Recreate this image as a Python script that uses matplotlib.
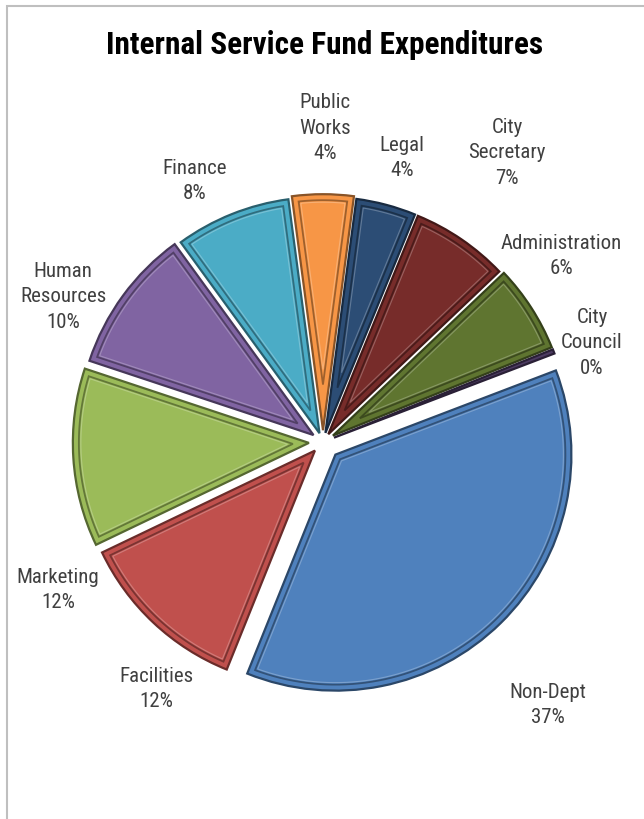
"""Exploded pie of internal service fund expenditures by department."""

import matplotlib

matplotlib.use("Agg")

import matplotlib.pyplot as plt
import numpy as np
from matplotlib.colors import to_rgb
from matplotlib.patches import Polygon, Rectangle

WIDTH, HEIGHT = 644, 820
FONT = ["Roboto Condensed", "Liberation Sans"]

departments = [
    "Non-Dept", "Facilities", "Marketing", "Human\nResources", "Finance",
    "Public\nWorks", "Legal", "City\nSecretary", "Administration", "City\nCouncil",
]
shares = [36.9, 11.8, 12.2, 9.9, 7.9, 4.2, 4.1, 6.7, 6.0, 0.3]
colors = [
    "#4F81BD", "#C0504D", "#9BBB59", "#8064A2", "#4BACC6",
    "#F79646", "#2C4D75", "#772C2A", "#5F7530", "#4D3B62",
]
# offset of each slice, as a fraction of the radius
explode = [0.075, 0.05, 0.06, 0.05, 0.04, 0.05, 0.04, 0.04, 0.05, 0.05]

# label anchor points, pixels from top-left
label_xy = [
    (548, 705), (156, 689), (58, 590), (63, 297), (195, 181),
    (325, 128), (402, 158), (507, 153), (561, 256), (592, 343),
]

PIE_CENTER = (323, HEIGHT - 443)
PIE_RADIUS = 236
FIRST_SLICE_ANGLE = 69.1  # clockwise from 12 o'clock


def shade(color, factor):
    return tuple(c * factor for c in to_rgb(color))


def inset_outline(wedge, depth):
    """Outline of a wedge shrunk inward by `depth` pixels."""
    cx, cy = wedge.center
    r = wedge.r
    t1, t2 = np.radians(wedge.theta1), np.radians(wedge.theta2)
    half = (t2 - t1) / 2
    if np.sin(half) * (r - depth) < depth * 2.5:
        return None
    mid = t1 + half
    apex_shift = depth / np.sin(half)
    apex = (cx + apex_shift * np.cos(mid), cy + apex_shift * np.sin(mid))
    rho = r - depth
    delta = np.arcsin(depth / rho)
    theta = np.linspace(t1 + delta, t2 - delta, 80)
    arc = np.column_stack([cx + rho * np.cos(theta), cy + rho * np.sin(theta)])
    return np.vstack([[apex], arc])


fig = plt.figure(figsize=(WIDTH / 100, HEIGHT / 100), dpi=100)
fig.patch.set_facecolor("white")
ax = fig.add_axes([0, 0, 1, 1])

# pie() takes explode in data units, so scale by the radius
wedges, _ = ax.pie(
    shares,
    colors=colors,
    explode=[e * PIE_RADIUS for e in explode],
    startangle=90 - FIRST_SLICE_ANGLE,
    counterclock=False,
    radius=PIE_RADIUS,
    center=PIE_CENTER,
    wedgeprops={"linewidth": 1.6},
)

# bevelled rim: dark outer edge plus an inset outline
for wedge, color in zip(wedges, colors):
    wedge.set_edgecolor(shade(color, 0.55))
    pts = inset_outline(wedge, 6)
    if pts is not None:
        ax.add_patch(Polygon(pts, closed=True, facecolor="none",
                             edgecolor=shade(color, 0.6), linewidth=1.3, alpha=0.9))
        ax.add_patch(Polygon(inset_outline(wedge, 8), closed=True, facecolor="none",
                             edgecolor=(1, 1, 1, 0.25), linewidth=0.8))

total = sum(shares)
for name, value, (lx, ly) in zip(departments, shares, label_xy):
    ax.text(lx, HEIGHT - ly, f"{name}\n{value / total * 100:.0f}%",
            ha="center", va="center", fontsize=15, color="#404040",
            family=FONT, linespacing=1.45)

# chart area border, cut off on the right and bottom
ax.add_patch(Rectangle((6.5, -30), WIDTH + 40, HEIGHT - 6.5 + 30,
                       facecolor="none", edgecolor="#BFBFBF", linewidth=1.5))

ax.set_xlim(0, WIDTH)
ax.set_ylim(0, HEIGHT)
ax.set_axis_off()

fig.text(325 / WIDTH, 1 - 45 / HEIGHT, "Internal Service Fund Expenditures",
         ha="center", va="center", fontsize=22.5, fontweight="bold", color="black",
         family=FONT)

fig.savefig("out.png", dpi=100)
